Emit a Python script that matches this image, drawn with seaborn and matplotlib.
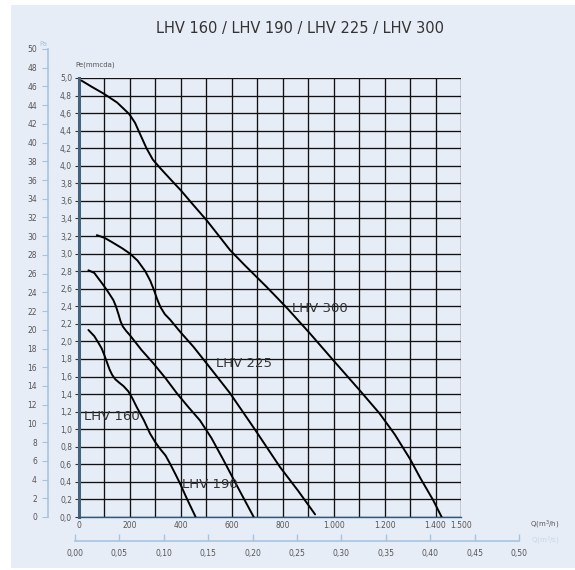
import numpy as np
import pandas as pd
import matplotlib
matplotlib.use("Agg")
import matplotlib.pyplot as plt
from matplotlib.patches import Rectangle
import seaborn as sns

# flow Q (m3/h) and pressure Pe (mmcda)
q_300 = [10, 50, 98, 150, 197, 220, 240, 265, 290, 320, 358, 400, 450, 501,
         550, 593, 650, 737, 820, 907, 1000, 1103, 1180, 1240, 1300, 1339,
         1391, 1424]
pe_300 = [4.97, 4.90, 4.82, 4.72, 4.59, 4.49, 4.36, 4.20, 4.07, 3.97, 3.85,
          3.72, 3.55, 3.38, 3.20, 3.04, 2.87, 2.62, 2.37, 2.09, 1.78, 1.44,
          1.18, 0.94, 0.66, 0.45, 0.19, 0.0]

q_225 = [70, 100, 130, 170, 200, 230, 260, 280, 295, 307, 320, 337, 357,
         400, 449, 520, 593, 690, 789, 860, 927]
pe_225 = [3.21, 3.18, 3.13, 3.06, 3.0, 2.92, 2.80, 2.69, 2.58, 2.48, 2.39,
          2.31, 2.25, 2.10, 1.94, 1.68, 1.41, 1.0, 0.57, 0.30, 0.03]

q_190 = [37, 60, 96, 115, 135, 145, 155, 163, 172, 185, 200, 246, 292, 340,
         384, 430, 475, 520, 567, 625, 686]
pe_190 = [2.81, 2.78, 2.64, 2.56, 2.47, 2.40, 2.31, 2.23, 2.17, 2.12, 2.07,
          1.90, 1.75, 1.58, 1.41, 1.25, 1.10, 0.90, 0.65, 0.33, 0.0]

q_160 = [37, 60, 75, 89, 100, 110, 120, 130, 142, 158, 175, 194, 210, 227,
         255, 279, 300, 320, 340, 357, 380, 397, 425, 458]
pe_160 = [2.13, 2.06, 1.99, 1.92, 1.84, 1.76, 1.68, 1.62, 1.57, 1.53, 1.49,
          1.43, 1.35, 1.25, 1.10, 0.95, 0.85, 0.77, 0.70, 0.61, 0.48, 0.38,
          0.20, 0.0]

models = ["LHV 300", "LHV 225", "LHV 190", "LHV 160"]
label_pos = {"LHV 300": (838, 2.33), "LHV 225": (538, 1.71),
             "LHV 190": (406, 0.33), "LHV 160": (20, 1.10)}

x_ticks = list(range(0, 1600, 100))
x_labels = ["0", "", "200", "", "400", "", "600", "", "800", "", "1.000", "",
            "1.200", "", "1.400", "1.500"]
pa_ticks = list(range(0, 52, 2))
qs_ticks = [0.0, 0.05, 0.10, 0.15, 0.20, 0.25, 0.30, 0.35, 0.40, 0.45, 0.50]

curves = pd.concat([
    pd.DataFrame({"q": q_300, "pe": pe_300, "model": "LHV 300"}),
    pd.DataFrame({"q": q_225, "pe": pe_225, "model": "LHV 225"}),
    pd.DataFrame({"q": q_190, "pe": pe_190, "model": "LHV 190"}),
    pd.DataFrame({"q": q_160, "pe": pe_160, "model": "LHV 160"}),
])

sns.set_theme(style="white")
plt.rcParams["font.family"] = ["DejaVu Sans"]

bg = "#e7edf7"
light_blue = "#a9c3df"
txt = "#555555"

W, H = 575, 570
fig = plt.figure(figsize=(W / 100, H / 100), dpi=100, facecolor="white")
fig.patches.append(Rectangle((11 / W, 2 / H), 1 - 11 / W, 1 - 7 / H,
                             transform=fig.transFigure, facecolor=bg,
                             edgecolor="none", zorder=-10))

# main chart
ax = fig.add_axes([79 / W, (H - 517) / H, (461 - 79) / W, (517 - 78) / H])
ax.set_facecolor(bg)
sns.lineplot(data=curves, x="q", y="pe", hue="model", units="model",
             estimator=None, sort=False, palette=["black"] * 4,
             linewidth=1.4, legend=False, ax=ax, zorder=3)
ax.set_xlim(0, 1500)
ax.set_ylim(0, 5)
ax.set_xticks(x_ticks)
ax.set_xticklabels(x_labels)
y_ticks = np.round(np.arange(0, 5.01, 0.2), 1)
ax.set_yticks(y_ticks)
ax.set_yticklabels([f"{v:.1f}".replace(".", ",") for v in y_ticks])
ax.grid(True, color="#111111", linewidth=0.95)
ax.tick_params(axis="x", length=0, labelsize=5.5, labelcolor=txt, pad=3)
ax.tick_params(axis="y", length=3, width=0.8, color="#333333",
               labelsize=5.5, labelcolor=txt, pad=2, left=True)
ax.set_xlabel("")
ax.set_ylabel("")
for s in ["top", "right"]:
    ax.spines[s].set_visible(False)
ax.spines["left"].set_color("#44627c")
ax.spines["left"].set_linewidth(2.2)
ax.spines["bottom"].set_color("#2d5a80")
ax.spines["bottom"].set_linewidth(1.0)
for m in models:
    x, y = label_pos[m]
    ax.text(x, y, m, fontsize=9.5, color="#333333", zorder=4)

# Pa axis
ax_pa = fig.add_axes([48 / W, (H - 517) / H, 0.001, (517 - 49) / H])
ax_pa.patch.set_visible(False)
ax_pa.set_ylim(0, 50)
ax_pa.set_yticks(pa_ticks)
ax_pa.set_xticks([])
for s in ["top", "right", "bottom"]:
    ax_pa.spines[s].set_visible(False)
ax_pa.spines["left"].set_color(light_blue)
ax_pa.spines["left"].set_linewidth(1.2)
ax_pa.tick_params(axis="y", length=4, width=0.8, color=light_blue,
                  labelsize=5.5, labelcolor=txt, pad=4, left=True)

# Q m3/s axis
ax_qs = fig.add_axes([75 / W, (H - 541) / H, (519 - 75) / W, 0.001])
ax_qs.patch.set_visible(False)
ax_qs.set_xlim(0, 0.5)
ax_qs.set_xticks(qs_ticks)
ax_qs.set_xticklabels([f"{v:.2f}".replace(".", ",") for v in qs_ticks])
ax_qs.set_yticks([])
for s in ["top", "right", "left"]:
    ax_qs.spines[s].set_visible(False)
ax_qs.spines["bottom"].set_color(light_blue)
ax_qs.spines["bottom"].set_linewidth(1.2)
ax_qs.tick_params(axis="x", direction="in", length=5, width=1.0,
                  color=light_blue, labelsize=5.5, labelcolor=txt, pad=6,
                  bottom=True)

fig.text(300 / W, 1 - 28 / H, "LHV 160 / LHV 190 / LHV 225 / LHV 300",
         ha="center", va="center", fontsize=10.5, color="#333333")
fig.text(95 / W, 1 - 65 / H, "Pe(mmcda)", ha="center", va="center",
         fontsize=5, color=txt)
fig.text(43 / W, 1 - 44 / H, "Pa", ha="center", va="center",
         fontsize=5, color=light_blue)
fig.text(545 / W, 1 - 525 / H, "Q(m$^3$/h)", ha="center", va="center",
         fontsize=5, color=txt)
fig.text(545 / W, 1 - 541 / H, "Q(m$^3$/s)", ha="center", va="center",
         fontsize=5, color="#c5d6ea")

fig.savefig("out.png", dpi=100, facecolor="white")
